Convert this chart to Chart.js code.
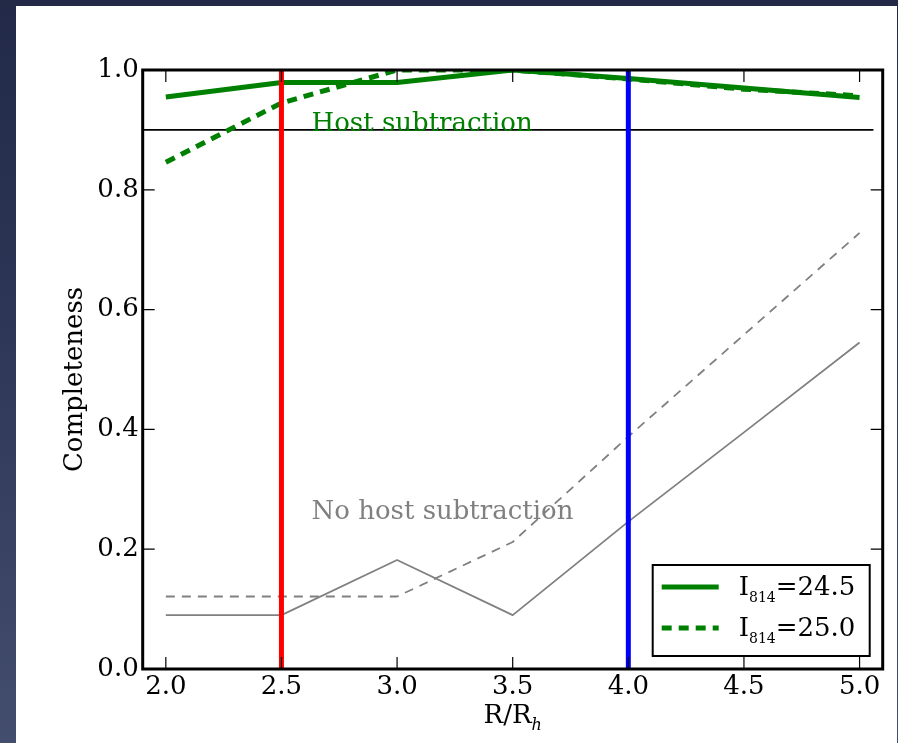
<!DOCTYPE html>
<html>
<head>
<meta charset="utf-8">
<script src="https://cdn.jsdelivr.net/npm/chart.js@4.4.0/dist/chart.umd.min.js"></script>
<style>
  html, body { margin: 0; padding: 0; }
  body {
    width: 898px; height: 743px; overflow: hidden; position: relative;
    background: linear-gradient(to bottom, #222a48 0%, #2c3555 40%, #434d6e 100%);
  }
  #panel {
    position: absolute; left: 16px; top: 6px; width: 881px; height: 737px;
    background: #ffffff;
  }
  canvas { display: block; }
</style>
</head>
<body>
<div id="panel"><canvas id="myChart" width="881" height="737"></canvas></div>
<script>
// radius in units of the host half-light radius
var rValues = [2.0, 2.5, 3.0, 3.5, 4.0, 4.5, 5.0];
// completeness with host subtraction
var hostSub245 = [0.955, 0.979, 0.979, 1.0, 0.986, 0.970, 0.954];
var hostSub250 = [0.846, 0.945, 1.0, 1.0, 0.985, 0.968, 0.957];
// completeness without host subtraction
var noHost245 = [0.09, 0.09, 0.182, 0.09, 0.246, 0.395, 0.545];
var noHost250 = [0.121, 0.121, 0.121, 0.212, 0.388, 0.558, 0.728];

var xTicks = [2.0, 2.5, 3.0, 3.5, 4.0, 4.5, 5.0];
var yTicks = [0.0, 0.2, 0.4, 0.6, 0.8, 1.0];

var redLineR = 2.5;
var blueLineR = 4.0;
var completenessCut = 0.9;

var SERIF = '"DejaVu Serif", "Liberation Serif", serif';
var FS = 26;

function pts(xs, ys) {
  return xs.map(function (x, i) { return { x: x, y: ys[i] }; });
}

// inward ticks on all four sides + frame
var framePlugin = {
  id: 'frame',
  afterDatasetsDraw: function (chart) {
    var ctx = chart.ctx, a = chart.chartArea;
    var xs = chart.scales.x, ys = chart.scales.y;
    ctx.save();
    ctx.strokeStyle = '#000';
    ctx.lineWidth = 1.2;
    ctx.beginPath();
    xTicks.forEach(function (v) {
      var px = xs.getPixelForValue(v);
      ctx.moveTo(px, a.bottom); ctx.lineTo(px, a.bottom - 12);
      ctx.moveTo(px, a.top); ctx.lineTo(px, a.top + 12);
    });
    yTicks.forEach(function (v) {
      var py = ys.getPixelForValue(v);
      ctx.moveTo(a.left, py); ctx.lineTo(a.left + 12, py);
      ctx.moveTo(a.right, py); ctx.lineTo(a.right - 12, py);
    });
    ctx.stroke();
    ctx.lineWidth = 3;
    ctx.strokeRect(a.left, a.top, a.right - a.left, a.bottom - a.top);
    ctx.restore();
  }
};

// text labels, axis titles with subscripts and the legend box
var textPlugin = {
  id: 'texts',
  afterDraw: function (chart) {
    var ctx = chart.ctx, a = chart.chartArea;
    var xs = chart.scales.x, ys = chart.scales.y;
    ctx.save();

    ctx.font = FS + 'px ' + SERIF;
    ctx.textBaseline = 'alphabetic';
    ctx.textAlign = 'left';
    ctx.fillStyle = '#008000';
    ctx.fillText('Host subtraction', xs.getPixelForValue(2.63), ys.getPixelForValue(0.898));
    ctx.fillStyle = '#808080';
    ctx.fillText('No host subtraction', xs.getPixelForValue(2.63), ys.getPixelForValue(0.25));

    // y title
    ctx.fillStyle = '#000';
    ctx.save();
    ctx.translate(a.left - 61, (a.top + a.bottom) / 2 + 10);
    ctx.rotate(-Math.PI / 2);
    ctx.textAlign = 'center';
    ctx.fillText('Completeness', 0, 0);
    ctx.restore();

    // x title R/R_h
    var main = 'R/R';
    ctx.font = FS + 'px ' + SERIF;
    var w1 = ctx.measureText(main).width;
    ctx.font = 'italic 16px ' + SERIF;
    var w2 = ctx.measureText('h').width;
    var cx = (a.left + a.right) / 2;
    var x0 = cx - (w1 + w2) / 2;
    ctx.font = FS + 'px ' + SERIF;
    ctx.fillText(main, x0, a.bottom + 54);
    ctx.font = 'italic 16px ' + SERIF;
    ctx.fillText('h', x0 + w1, a.bottom + 61);

    // legend
    var bx = a.right - 230, by = a.bottom - 104, bw = 217, bh = 91;
    ctx.fillStyle = '#fff';
    ctx.fillRect(bx, by, bw, bh);
    ctx.strokeStyle = '#000';
    ctx.lineWidth = 2;
    ctx.strokeRect(bx, by, bw, bh);
    var items = chart.data.datasets.filter(function (d) { return d.legendMag; });
    items.forEach(function (d, i) {
      var ly = by + 22 + i * 41;
      ctx.save();
      ctx.strokeStyle = d.borderColor;
      ctx.lineWidth = d.borderWidth;
      ctx.setLineDash(d.borderDash || []);
      ctx.beginPath();
      ctx.moveTo(bx + 9, ly); ctx.lineTo(bx + 66, ly);
      ctx.stroke();
      ctx.restore();
      var tx = bx + 86, tb = ly + 8;
      ctx.fillStyle = '#000';
      ctx.font = FS + 'px ' + SERIF;
      ctx.fillText('I', tx, tb);
      tx += ctx.measureText('I').width;
      ctx.font = '14px ' + SERIF;
      ctx.fillText('814', tx, tb + 7);
      tx += ctx.measureText('814').width;
      ctx.font = FS + 'px ' + SERIF;
      ctx.fillText('=' + d.legendMag, tx, tb);
    });
    ctx.restore();
  }
};

document.addEventListener('DOMContentLoaded', function () {
  var ctx = document.getElementById('myChart').getContext('2d');
  new Chart(ctx, {
    type: 'line',
    data: {
      datasets: [
        {
          label: 'R = 2.5',
          data: [{ x: redLineR, y: 0 }, { x: redLineR, y: 1 }],
          borderColor: '#ff0000', borderWidth: 5, order: 0
        },
        {
          label: 'R = 4.0',
          data: [{ x: blueLineR, y: 0 }, { x: blueLineR, y: 1 }],
          borderColor: '#0000ff', borderWidth: 5, order: 0
        },
        {
          label: 'I814=24.5', legendMag: '24.5',
          data: pts(rValues, hostSub245),
          borderColor: '#008000', borderWidth: 5, order: 1
        },
        {
          label: 'I814=25.0', legendMag: '25.0',
          data: pts(rValues, hostSub250),
          borderColor: '#008000', borderWidth: 5, borderDash: [10, 7], order: 1
        },
        {
          label: 'cut',
          data: [{ x: 1.9, y: completenessCut }, { x: 5.06, y: completenessCut }],
          borderColor: '#000000', borderWidth: 1.8, order: 2
        },
        {
          label: 'no host 24.5',
          data: pts(rValues, noHost245),
          borderColor: '#808080', borderWidth: 1.8, order: 3
        },
        {
          label: 'no host 25.0',
          data: pts(rValues, noHost250),
          borderColor: '#808080', borderWidth: 1.8, borderDash: [9, 7], order: 3
        }
      ]
    },
    options: {
      responsive: false,
      animation: false,
      elements: {
        point: { radius: 0, hoverRadius: 0 },
        line: { tension: 0, fill: false, borderCapStyle: 'butt', borderJoinStyle: 'round' }
      },
      layout: { padding: { top: 64, right: 14.3, bottom: 0, left: 0 } },
      plugins: {
        legend: { display: false },
        tooltip: { enabled: false },
        title: { display: false }
      },
      scales: {
        x: {
          type: 'linear',
          min: 1.9, max: 5.1,
          afterBuildTicks: function (scale) {
            scale.ticks = xTicks.map(function (v) { return { value: v }; });
          },
          afterFit: function (scale) { scale.height = 74; },
          grid: { display: false, drawTicks: false },
          border: { display: false },
          ticks: {
            padding: 3,
            color: '#000',
            font: { family: SERIF, size: FS },
            callback: function (v) { return Number(v).toFixed(1); }
          }
        },
        y: {
          type: 'linear',
          min: 0, max: 1,
          afterBuildTicks: function (scale) {
            scale.ticks = yTicks.map(function (v) { return { value: v }; });
          },
          afterFit: function (scale) { scale.width = 126.7; },
          grid: { display: false, drawTicks: false },
          border: { display: false },
          ticks: {
            padding: 4,
            color: '#000',
            font: { family: SERIF, size: FS },
            callback: function (v) { return Number(v).toFixed(1); }
          }
        }
      }
    },
    plugins: [framePlugin, textPlugin]
  });
});
</script>
</body>
</html>
